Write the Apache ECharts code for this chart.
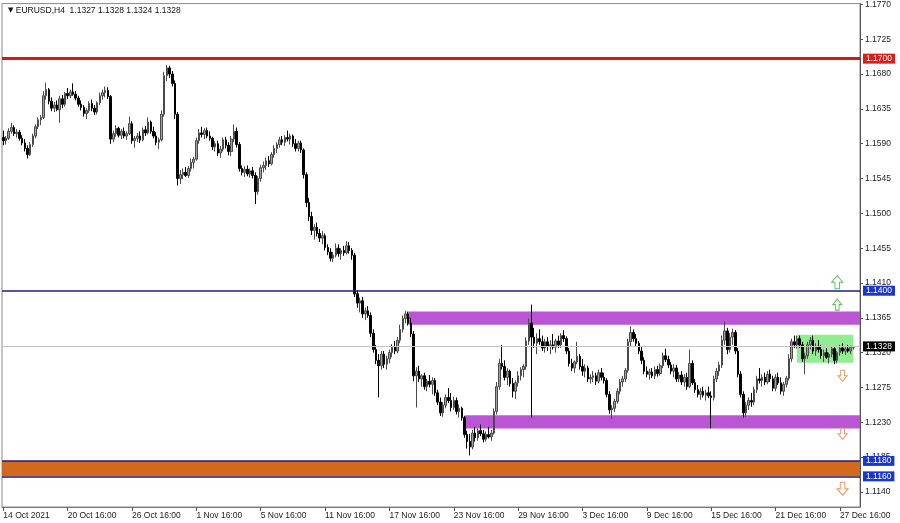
<!DOCTYPE html>
<html><head><meta charset="utf-8">
<script src="https://cdn.jsdelivr.net/npm/echarts@6/dist/echarts.min.js"></script>
<style>html,body{margin:0;padding:0;background:#fff}#chart{width:900px;height:523px}</style>
</head><body><div id="chart"></div>
<script>
// ---------- data ----------
const symbolName = 'EURUSD,H4';
const lastQuote = ['1.1327', '1.1328', '1.1324', '1.1328'];
const xTickIndex = [0, 24, 48, 72, 96, 120, 144, 168, 192, 216, 240, 264, 288, 312];
const xTickLabels = ['14 Oct 2021', '20 Oct 16:00', '26 Oct 16:00', '1 Nov 16:00', '5 Nov 16:00', '11 Nov 16:00',
  '17 Nov 16:00', '23 Nov 16:00', '29 Nov 16:00', '3 Dec 16:00', '9 Dec 16:00', '15 Dec 16:00', '21 Dec 16:00', '27 Dec 16:00'];
const yTicks = [1.1140, 1.1185, 1.1230, 1.1275, 1.1320, 1.1365, 1.1410, 1.1455, 1.1500, 1.1545, 1.1590, 1.1635, 1.1680, 1.1725, 1.1770];
const yRange = [1.11204, 1.17712];
const slotCount = 320;
const resistanceLevel = 1.1700;
const pivotLevel = 1.1400;
const supportLevels = [1.1180, 1.1160];
const currentPrice = 1.1328;
const upperBand = { start: 151, top: 1.1373, bottom: 1.1356 };
const lowerBand = { start: 172, top: 1.1239, bottom: 1.1222 };
const consolidationBox = { start: 296, end: 317, top: 1.1343, bottom: 1.1307 };
const upArrows = [[311, 1.1411], [311, 1.1382]];
const downArrows = [[313, 1.1290], [313, 1.1215], [313, 1.1144]];
// H4 bars: [open, high, low, close]
const ohlc = [
[1.1598,1.1607,1.1588,1.1594],[1.1594,1.1600,1.1589,1.1597],[1.1597,1.1610,1.1595,1.1606],[1.1606,1.1617,1.1603,1.1611],[1.1611,1.1614,1.1600,1.1603],[1.1603,1.1609,1.1598,1.1605],
[1.1605,1.1608,1.1594,1.1597],[1.1597,1.1601,1.1588,1.1591],[1.1591,1.1596,1.1580,1.1584],[1.1584,1.1588,1.1571,1.1576],[1.1576,1.1592,1.1574,1.1589],[1.1589,1.1603,1.1586,1.1600],
[1.1600,1.1615,1.1597,1.1612],[1.1612,1.1624,1.1609,1.1621],[1.1621,1.1627,1.1614,1.1624],[1.1624,1.1658,1.1622,1.1652],[1.1652,1.1669,1.1647,1.1660],[1.1660,1.1662,1.1641,1.1645],
[1.1645,1.1650,1.1632,1.1636],[1.1636,1.1644,1.1631,1.1640],[1.1640,1.1646,1.1632,1.1634],[1.1634,1.1652,1.1617,1.1648],[1.1648,1.1653,1.1636,1.1641],[1.1641,1.1657,1.1638,1.1655],
[1.1655,1.1662,1.1648,1.1652],[1.1652,1.1660,1.1649,1.1657],[1.1657,1.1668,1.1652,1.1654],[1.1654,1.1658,1.1646,1.1649],[1.1649,1.1652,1.1638,1.1641],[1.1641,1.1646,1.1633,1.1637],
[1.1637,1.1640,1.1625,1.1629],[1.1629,1.1636,1.1622,1.1633],[1.1633,1.1645,1.1630,1.1642],[1.1642,1.1647,1.1632,1.1636],[1.1636,1.1640,1.1627,1.1631],[1.1631,1.1645,1.1628,1.1643],
[1.1643,1.1656,1.1640,1.1652],[1.1652,1.1660,1.1647,1.1656],[1.1656,1.1664,1.1650,1.1659],[1.1659,1.1663,1.1648,1.1651],[1.1651,1.1653,1.1590,1.1596],[1.1596,1.1607,1.1592,1.1603],
[1.1603,1.1614,1.1599,1.1610],[1.1610,1.1612,1.1598,1.1601],[1.1601,1.1609,1.1596,1.1606],[1.1606,1.1611,1.1597,1.1600],[1.1600,1.1606,1.1595,1.1603],[1.1603,1.1625,1.1601,1.1616],
[1.1616,1.1619,1.1590,1.1594],[1.1594,1.1600,1.1585,1.1597],[1.1597,1.1604,1.1592,1.1600],[1.1600,1.1606,1.1591,1.1595],[1.1595,1.1611,1.1593,1.1608],[1.1608,1.1613,1.1600,1.1604],
[1.1604,1.1624,1.1602,1.1618],[1.1618,1.1620,1.1603,1.1606],[1.1606,1.1612,1.1597,1.1600],[1.1600,1.1605,1.1588,1.1592],[1.1592,1.1598,1.1583,1.1595],[1.1595,1.1633,1.1593,1.1628],
[1.1628,1.1683,1.1625,1.1678],[1.1678,1.1692,1.1671,1.1688],[1.1688,1.1691,1.1675,1.1680],[1.1680,1.1684,1.1664,1.1668],[1.1668,1.1672,1.1622,1.1628],[1.1628,1.1631,1.1536,1.1545],
[1.1545,1.1556,1.1538,1.1550],[1.1550,1.1558,1.1544,1.1553],[1.1553,1.1560,1.1547,1.1549],[1.1549,1.1561,1.1546,1.1558],[1.1558,1.1571,1.1554,1.1566],[1.1566,1.1573,1.1558,1.1570],
[1.1570,1.1598,1.1568,1.1594],[1.1594,1.1609,1.1590,1.1604],[1.1604,1.1612,1.1598,1.1602],[1.1602,1.1610,1.1596,1.1607],[1.1607,1.1611,1.1597,1.1600],[1.1600,1.1606,1.1594,1.1597],
[1.1597,1.1599,1.1582,1.1586],[1.1586,1.1593,1.1580,1.1590],[1.1590,1.1594,1.1574,1.1578],[1.1578,1.1587,1.1572,1.1583],[1.1583,1.1598,1.1580,1.1595],[1.1595,1.1599,1.1584,1.1588],
[1.1588,1.1592,1.1575,1.1580],[1.1580,1.1600,1.1574,1.1596],[1.1596,1.1615,1.1592,1.1606],[1.1606,1.1611,1.1585,1.1589],[1.1589,1.1592,1.1554,1.1558],[1.1558,1.1562,1.1549,1.1553],
[1.1553,1.1561,1.1547,1.1557],[1.1557,1.1562,1.1548,1.1551],[1.1551,1.1558,1.1546,1.1555],[1.1555,1.1560,1.1545,1.1549],[1.1549,1.1553,1.1512,1.1528],[1.1528,1.1548,1.1524,1.1545],
[1.1545,1.1563,1.1541,1.1559],[1.1559,1.1567,1.1553,1.1562],[1.1562,1.1572,1.1556,1.1568],[1.1568,1.1574,1.1560,1.1564],[1.1564,1.1579,1.1562,1.1576],[1.1576,1.1588,1.1572,1.1584],
[1.1584,1.1592,1.1578,1.1589],[1.1589,1.1599,1.1585,1.1595],[1.1595,1.1600,1.1588,1.1592],[1.1592,1.1601,1.1587,1.1598],[1.1598,1.1607,1.1593,1.1596],[1.1596,1.1603,1.1589,1.1600],
[1.1600,1.1602,1.1586,1.1590],[1.1590,1.1596,1.1580,1.1584],[1.1584,1.1594,1.1580,1.1591],[1.1591,1.1594,1.1578,1.1582],[1.1582,1.1584,1.1545,1.1550],[1.1550,1.1553,1.1508,1.1514],
[1.1514,1.1520,1.1490,1.1496],[1.1496,1.1502,1.1472,1.1478],[1.1478,1.1486,1.1466,1.1482],[1.1482,1.1488,1.1470,1.1474],[1.1474,1.1480,1.1463,1.1468],[1.1468,1.1477,1.1460,1.1471],
[1.1471,1.1474,1.1452,1.1456],[1.1456,1.1460,1.1446,1.1450],[1.1450,1.1455,1.1438,1.1442],[1.1442,1.1450,1.1437,1.1446],[1.1446,1.1461,1.1443,1.1455],[1.1455,1.1460,1.1444,1.1448],
[1.1448,1.1455,1.1440,1.1452],[1.1452,1.1458,1.1445,1.1449],[1.1449,1.1464,1.1447,1.1458],[1.1458,1.1463,1.1448,1.1452],[1.1452,1.1455,1.1440,1.1446],[1.1446,1.1449,1.1392,1.1396],
[1.1396,1.1400,1.1378,1.1384],[1.1384,1.1391,1.1372,1.1387],[1.1387,1.1392,1.1365,1.1370],[1.1370,1.1378,1.1362,1.1374],[1.1374,1.1380,1.1365,1.1368],[1.1368,1.1372,1.1340,1.1345],
[1.1345,1.1350,1.1320,1.1324],[1.1324,1.1330,1.1305,1.1310],[1.1310,1.1318,1.1262,1.1303],[1.1303,1.1322,1.1298,1.1318],[1.1318,1.1322,1.1300,1.1305],[1.1305,1.1316,1.1298,1.1312],
[1.1312,1.1324,1.1306,1.1320],[1.1320,1.1331,1.1314,1.1327],[1.1327,1.1335,1.1318,1.1322],[1.1322,1.1340,1.1319,1.1336],[1.1336,1.1356,1.1332,1.1350],[1.1350,1.1368,1.1346,1.1364],
[1.1364,1.1374,1.1358,1.1370],[1.1370,1.1373,1.1355,1.1358],[1.1358,1.1365,1.1340,1.1344],[1.1344,1.1348,1.1283,1.1290],[1.1290,1.1301,1.1249,1.1296],[1.1296,1.1303,1.1282,1.1286],
[1.1286,1.1292,1.1276,1.1290],[1.1290,1.1294,1.1272,1.1276],[1.1276,1.1286,1.1270,1.1283],[1.1283,1.1291,1.1275,1.1279],[1.1279,1.1288,1.1266,1.1284],[1.1284,1.1287,1.1264,1.1268],
[1.1268,1.1272,1.1252,1.1256],[1.1256,1.1262,1.1238,1.1242],[1.1242,1.1256,1.1237,1.1252],[1.1252,1.1266,1.1248,1.1262],[1.1262,1.1274,1.1255,1.1258],[1.1258,1.1268,1.1244,1.1249],
[1.1249,1.1263,1.1246,1.1258],[1.1258,1.1262,1.1240,1.1244],[1.1244,1.1253,1.1236,1.1248],[1.1248,1.1250,1.1232,1.1236],[1.1236,1.1238,1.1210,1.1214],[1.1214,1.1219,1.1196,1.1205],
[1.1205,1.1215,1.1187,1.1198],[1.1198,1.1220,1.1195,1.1216],[1.1216,1.1224,1.1205,1.1210],[1.1210,1.1222,1.1206,1.1219],[1.1219,1.1227,1.1212,1.1215],[1.1215,1.1220,1.1204,1.1208],
[1.1208,1.1218,1.1205,1.1214],[1.1214,1.1224,1.1209,1.1211],[1.1211,1.1220,1.1206,1.1216],[1.1216,1.1248,1.1214,1.1244],[1.1244,1.1282,1.1240,1.1276],[1.1276,1.1312,1.1272,1.1306],
[1.1306,1.1330,1.1298,1.1302],[1.1302,1.1310,1.1284,1.1288],[1.1288,1.1300,1.1278,1.1296],[1.1296,1.1298,1.1276,1.1280],[1.1280,1.1287,1.1262,1.1270],[1.1270,1.1284,1.1260,1.1281],
[1.1281,1.1296,1.1276,1.1290],[1.1290,1.1301,1.1284,1.1298],[1.1298,1.1305,1.1288,1.1302],[1.1302,1.1340,1.1298,1.1335],[1.1335,1.1364,1.1330,1.1358],[1.1358,1.1382,1.1236,1.1340],
[1.1340,1.1352,1.1326,1.1332],[1.1332,1.1345,1.1318,1.1338],[1.1338,1.1350,1.1330,1.1334],[1.1334,1.1342,1.1322,1.1326],[1.1326,1.1338,1.1320,1.1334],[1.1334,1.1340,1.1322,1.1328],
[1.1328,1.1336,1.1318,1.1330],[1.1330,1.1344,1.1324,1.1327],[1.1327,1.1338,1.1320,1.1335],[1.1335,1.1342,1.1326,1.1330],[1.1330,1.1345,1.1326,1.1342],[1.1342,1.1349,1.1334,1.1338],
[1.1338,1.1341,1.1318,1.1322],[1.1322,1.1326,1.1302,1.1306],[1.1306,1.1312,1.1296,1.1300],[1.1300,1.1310,1.1294,1.1308],[1.1308,1.1334,1.1305,1.1315],[1.1315,1.1318,1.1298,1.1302],
[1.1302,1.1312,1.1290,1.1296],[1.1296,1.1305,1.1288,1.1300],[1.1300,1.1303,1.1282,1.1286],[1.1286,1.1292,1.1280,1.1288],[1.1288,1.1296,1.1282,1.1290],[1.1290,1.1294,1.1278,1.1283],
[1.1283,1.1298,1.1280,1.1294],[1.1294,1.1300,1.1284,1.1288],[1.1288,1.1294,1.1280,1.1284],[1.1284,1.1287,1.1262,1.1266],[1.1266,1.1270,1.1241,1.1246],[1.1246,1.1252,1.1234,1.1248],
[1.1248,1.1260,1.1243,1.1257],[1.1257,1.1274,1.1254,1.1270],[1.1270,1.1286,1.1266,1.1282],[1.1282,1.1290,1.1276,1.1286],[1.1286,1.1300,1.1282,1.1297],[1.1297,1.1338,1.1294,1.1334],
[1.1334,1.1354,1.1328,1.1346],[1.1346,1.1350,1.1334,1.1338],[1.1338,1.1344,1.1328,1.1332],[1.1332,1.1335,1.1318,1.1322],[1.1322,1.1328,1.1305,1.1310],[1.1310,1.1314,1.1292,1.1296],
[1.1296,1.1302,1.1288,1.1292],[1.1292,1.1299,1.1285,1.1295],[1.1295,1.1300,1.1287,1.1290],[1.1290,1.1302,1.1286,1.1298],[1.1298,1.1303,1.1289,1.1293],[1.1293,1.1306,1.1290,1.1303],
[1.1303,1.1320,1.1300,1.1316],[1.1316,1.1325,1.1308,1.1311],[1.1311,1.1316,1.1300,1.1304],[1.1304,1.1308,1.1292,1.1296],[1.1296,1.1305,1.1288,1.1300],[1.1300,1.1304,1.1282,1.1286],
[1.1286,1.1295,1.1282,1.1291],[1.1291,1.1296,1.1278,1.1282],[1.1282,1.1292,1.1276,1.1288],[1.1288,1.1294,1.1272,1.1276],[1.1276,1.1324,1.1274,1.1306],[1.1306,1.1310,1.1278,1.1281],
[1.1281,1.1286,1.1268,1.1272],[1.1272,1.1278,1.1262,1.1266],[1.1266,1.1274,1.1259,1.1270],[1.1270,1.1276,1.1262,1.1265],[1.1265,1.1272,1.1258,1.1268],[1.1268,1.1276,1.1261,1.1264],
[1.1264,1.1270,1.1222,1.1262],[1.1262,1.1290,1.1258,1.1286],[1.1286,1.1300,1.1282,1.1296],[1.1296,1.1308,1.1290,1.1304],[1.1304,1.1342,1.1300,1.1336],[1.1336,1.1360,1.1330,1.1348],
[1.1348,1.1352,1.1318,1.1324],[1.1324,1.1345,1.1320,1.1340],[1.1340,1.1351,1.1330,1.1346],[1.1346,1.1349,1.1318,1.1322],[1.1322,1.1326,1.1288,1.1292],[1.1292,1.1296,1.1262,1.1266],
[1.1266,1.1270,1.1236,1.1242],[1.1242,1.1256,1.1237,1.1252],[1.1252,1.1262,1.1246,1.1258],[1.1258,1.1268,1.1250,1.1256],[1.1256,1.1276,1.1252,1.1272],[1.1272,1.1290,1.1268,1.1286],
[1.1286,1.1300,1.1280,1.1284],[1.1284,1.1292,1.1276,1.1288],[1.1288,1.1294,1.1278,1.1282],[1.1282,1.1296,1.1279,1.1292],[1.1292,1.1298,1.1282,1.1286],[1.1286,1.1290,1.1270,1.1274],
[1.1274,1.1292,1.1270,1.1288],[1.1288,1.1294,1.1278,1.1281],[1.1281,1.1288,1.1266,1.1270],[1.1270,1.1282,1.1264,1.1279],[1.1279,1.1290,1.1275,1.1287],[1.1287,1.1318,1.1284,1.1312],
[1.1312,1.1338,1.1308,1.1334],[1.1334,1.1342,1.1326,1.1330],[1.1330,1.1342,1.1325,1.1338],[1.1338,1.1342,1.1326,1.1330],[1.1330,1.1334,1.1308,1.1312],[1.1312,1.1320,1.1292,1.1316],
[1.1316,1.1334,1.1312,1.1330],[1.1330,1.1340,1.1324,1.1336],[1.1336,1.1342,1.1318,1.1322],[1.1322,1.1332,1.1316,1.1328],[1.1328,1.1336,1.1320,1.1324],[1.1324,1.1330,1.1312,1.1316],
[1.1316,1.1324,1.1308,1.1320],[1.1320,1.1326,1.1312,1.1314],[1.1314,1.1320,1.1306,1.1318],[1.1318,1.1328,1.1314,1.1325],[1.1325,1.1328,1.1305,1.1310],[1.1310,1.1322,1.1306,1.1320],
[1.1320,1.1330,1.1316,1.1326],[1.1326,1.1332,1.1318,1.1322],[1.1322,1.1328,1.1317,1.1325],[1.1325,1.1330,1.1320,1.1322],[1.1322,1.1329,1.1318,1.1327],[1.1327,1.1328,1.1324,1.1328]
];

// ---------- chart ----------
const FONT = 'Liberation Sans';
const categories = Array.from({ length: slotCount }, (_, i) => String(i));
const candleData = ohlc.map(r => [r[0], r[3], r[2], r[1]]);
const tickSet = new Set(xTickIndex);
const tickText = {};
xTickIndex.forEach((idx, k) => { tickText[idx] = xTickLabels[k]; });

const upPath = 'path://M6,0 L12,7 L8.5,7 L8.5,14 L3.5,14 L3.5,7 L0,7 Z';
const downPath = 'path://M3.5,0 L8.5,0 L8.5,7 L12,7 L6,14 L0,7 L3.5,7 Z';
const upSizes = [[11, 13], [9, 11]];
const downSizes = [[9, 11], [9, 11], [11, 13]];

function levelLabel(bg) {
  return { show: true, position: 'end', distance: 3, color: '#fff', backgroundColor: bg,
    padding: [1, 3, 0, 3], fontSize: 8.5, fontFamily: FONT, formatter: p => Number(p.value).toFixed(4) };
}

const chart = echarts.init(document.getElementById('chart'), null, { renderer: 'canvas' });
chart.setOption({
  animation: false,
  backgroundColor: '#ffffff',
  title: {
    left: 3, top: 1,
    text: '{t|▼} ' + symbolName + '  ' + lastQuote.join(' '),
    textStyle: { fontSize: 8.5, fontWeight: 'normal', color: '#111', fontFamily: FONT,
      rich: { t: { fontSize: 7, fontFamily: 'DejaVu Sans', color: '#111' } } }
  },
  grid: { left: 2, right: 40, top: 0, bottom: 16, show: true, borderColor: '#8a8a8a', borderWidth: 1, backgroundColor: '#fff' },
  xAxis: {
    type: 'category', data: categories, boundaryGap: true,
    axisLine: { lineStyle: { color: '#7a7a7a', width: 1 } },
    axisTick: { show: true, alignWithLabel: true, interval: i => tickSet.has(i), length: 4, lineStyle: { color: '#555' } },
    axisLabel: { interval: i => tickSet.has(i), formatter: (v, i) => tickText[i] || '', align: 'left', margin: 4,
      fontSize: 8.5, color: '#222', fontFamily: FONT },
    splitLine: { show: false }
  },
  yAxis: {
    type: 'value', position: 'right', min: yRange[0], max: yRange[1], scale: true,
    axisLine: { show: true, lineStyle: { color: '#555', width: 1 } },
    axisTick: { show: true, customValues: yTicks, length: 3, lineStyle: { color: '#555' } },
    axisLabel: { customValues: yTicks, formatter: v => v.toFixed(4), margin: 5, fontSize: 8.5, color: '#222', fontFamily: FONT },
    splitLine: { show: false }
  },
  series: [{
    type: 'candlestick',
    data: candleData,
    barWidth: '75%',
    itemStyle: { color: '#a0a0a0', borderColor: '#4a4a4a', color0: '#000', borderColor0: '#000', borderWidth: 1 },
    markArea: {
      silent: true,
      data: [
        [{ yAxis: supportLevels[0], itemStyle: { color: '#d2691e' } }, { yAxis: supportLevels[1] }],
        [{ xAxis: upperBand.start, yAxis: upperBand.top, itemStyle: { color: '#ba55d3' } }, { yAxis: upperBand.bottom }],
        [{ xAxis: lowerBand.start, yAxis: lowerBand.top, itemStyle: { color: '#ba55d3' } }, { yAxis: lowerBand.bottom }],
        [{ xAxis: consolidationBox.start, yAxis: consolidationBox.top, itemStyle: { color: '#90ee90' } },
         { xAxis: consolidationBox.end, yAxis: consolidationBox.bottom }]
      ]
    },
    markLine: {
      silent: true, symbol: ['none', 'none'], precision: 4,
      data: [
        { yAxis: currentPrice, lineStyle: { color: '#c4c4c4', width: 1, type: 'solid' }, label: levelLabel('#000') },
        { yAxis: resistanceLevel, lineStyle: { color: '#dd1515', width: 3, type: 'solid' }, label: levelLabel('#e01a1a') },
        { yAxis: pivotLevel, lineStyle: { color: '#1c1c84', width: 1.5, type: 'solid' }, label: levelLabel('#1a35d0') },
        { yAxis: supportLevels[0], lineStyle: { color: '#2a1a6e', width: 1.5, type: 'solid' }, label: levelLabel('#1a35d0') },
        { yAxis: supportLevels[1], lineStyle: { color: '#2a1a6e', width: 1.5, type: 'solid' }, label: levelLabel('#1a35d0') }
      ]
    },
    markPoint: {
      silent: true,
      label: { show: false },
      data: upArrows.map((c, k) => ({ coord: c, symbol: upPath, symbolSize: upSizes[k],
          itemStyle: { color: '#ffffff', borderColor: '#5cc05c', borderWidth: 1 } }))
        .concat(downArrows.map((c, k) => ({ coord: c, symbol: downPath, symbolSize: downSizes[k],
          itemStyle: { color: '#ffffff', borderColor: '#ef9460', borderWidth: 1 } })))
    }
  }]
});
</script>
</body></html>
